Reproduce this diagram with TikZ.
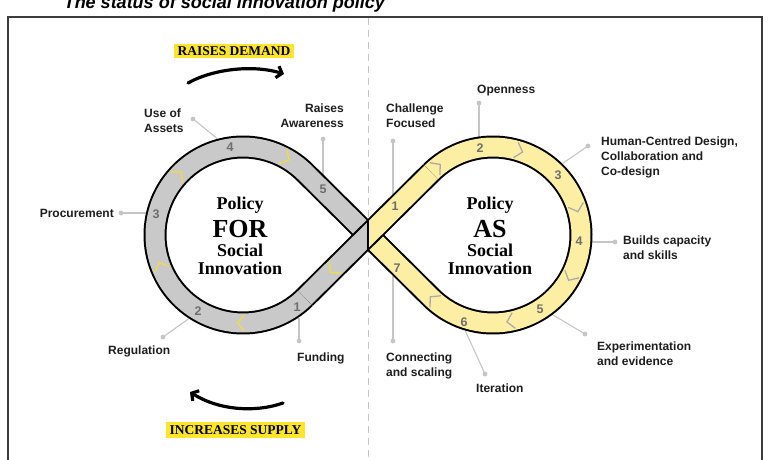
\documentclass[tikz,border=0pt]{standalone}
\usepackage{fontspec}
\setmainfont{Liberation Sans}
\newfontfamily\serifb{Liberation Serif}
\usetikzlibrary{calc,arrows.meta}
\definecolor{bandgray}{HTML}{C9C9C9}
\definecolor{bandyel}{HTML}{FCEFA4}
\definecolor{hl}{HTML}{FDE52B}
\definecolor{chevy}{HTML}{F2DA45}
\definecolor{chevg}{HTML}{ABABAB}
\definecolor{numc}{HTML}{6E6E6E}
\definecolor{leadc}{HTML}{C6C6C6}
\definecolor{labc}{HTML}{1E1E1E}
\definecolor{framec}{HTML}{3C3C3C}
\newcommand\chevC[3]{%
  \draw[#3, line width=1.3, line join=miter]
    ($(#1)+(#2:96)+(#2+90:-3)$) -- ($(#1)+(#2:88)+(#2+90:4)$) -- ($(#1)+(#2:80)+(#2+90:-3)$);}
\begin{document}
\begin{tikzpicture}[x=1pt,y=-1pt,
  lab/.style={font=\fontsize{12}{15}\selectfont\bfseries, text=labc, inner sep=0pt, align=left},
  labr/.style={lab, align=right},
  num/.style={font=\fontsize{12.5}{12.5}\selectfont\bfseries, text=numc, inner sep=0pt},
  ctr/.style={font=\serifb\bfseries\fontsize{18}{18}\selectfont, text=black, inner sep=0pt, anchor=base},
  big/.style={font=\serifb\bfseries\fontsize{26}{26}\selectfont, text=black, inner sep=0pt, anchor=base},
  tag/.style={font=\serifb\bfseries\fontsize{13.5}{13.5}\selectfont, fill=hl, inner xsep=3.5pt, text height=9pt, text depth=0pt},
  lead/.style={leadc, line width=1.1pt},
  bigarrow/.style={line width=3.2pt, line cap=round, -{Straight Barb[length=5pt,width=12pt]}}]
\clip (0,0) rectangle (769,460);
\fill[white] (0,0) rectangle (769,460);
% title (cut off at the top, as in the reference)
\node[anchor=base east, font=\fontsize{18}{20}\selectfont\bfseries\itshape, inner sep=0pt] (title) at (385,9) {The status of social innovation policy};
% frame and divider
\draw[framec, line width=1.4pt] (8,462) -- (8,17) -- (762,17) -- (762,462);
\draw[leadc, line width=1pt, dash pattern=on 7pt off 5pt] (368,18) -- (368,462);
% geometry
\coordinate (CL) at (243,235);
\coordinate (CR) at (493,235);
\coordinate (X) at (368,235);
\coordinate (TLd) at ($(CL)+(45.25:88)$);
\coordinate (TLu) at ($(CL)+(-45.25:88)$);
\coordinate (TRd) at ($(CR)+(134.75:88)$);
\coordinate (TRu) at ($(CR)+(-134.75:88)$);
% leader lines
\coordinate (dProc) at (121,213); \coordinate (eProc) at (146,213);
\coordinate (dUse) at (193,119);  \coordinate (eUse) at ($(CL)+(255:100)$);
\coordinate (dRai) at (323,139);  \coordinate (eRai) at (323,175);
\coordinate (dReg) at (163,337);  \coordinate (eReg) at ($(CL)+(123:100)$);
\coordinate (dFun) at (299,341);  \coordinate (eFun) at (299,318);
\coordinate (dCha) at (393,141);  \coordinate (eCha) at (393,195);
\coordinate (dOpe) at (479,103);  \coordinate (eOpe) at (479,137);
\coordinate (dHum) at (588,146);  \coordinate (eHum) at ($(CR)+(-45.8:100)$);
\coordinate (dBui) at (615,242);  \coordinate (eBui) at (592,242);
\coordinate (dExp) at (585,334);  \coordinate (eExp) at ($(CR)+(53.1:100)$);
\coordinate (dIte) at (485,374);  \coordinate (eIte) at ($(CR)+(106:100)$);
\coordinate (dCon) at (393,341);  \coordinate (eCon) at (393,276);
\foreach \n in {Proc,Use,Rai,Reg,Fun,Cha,Ope,Hum,Bui,Exp,Ite,Con}{
  \draw[lead] (d\n) -- (e\n);
  \fill[leadc] (d\n) circle (2.4);
}
% ring
\def\pathA{(TLd) arc[start angle=45.25, end angle=314.75, radius=88] -- (X) -- (TRd) arc[start angle=134.75, end angle=-134.75, radius=88]}
\def\pathB{(TRu) -- (X) -- (TLd)}
\begin{scope}
  \clip (0,0) rectangle (368,460);
  \draw[black, line width=23pt] \pathA;
  \draw[bandgray, line width=19pt] \pathA;
  \draw[black, line width=23pt] \pathB;
  \draw[bandgray, line width=19pt] \pathB;
\end{scope}
\begin{scope}
  \clip (368,0) rectangle (769,460);
  \draw[black, line width=23pt] \pathA;
  \draw[bandyel, line width=19pt] \pathA;
  \draw[black, line width=23pt] \pathB;
  \draw[bandyel, line width=19pt] \pathB;
\end{scope}
\draw[black, line width=2pt] (368,218.7) -- (368,251.3);
% chevrons
\foreach \a in {299,223,159,91}{\chevC{CL}{\a}{chevy}}
\draw[chevy, line width=1.3, line join=miter]
  ($(X)+(135.25:46)+(45.25:8)$) -- ($(X)+(135.25:53)$) -- ($(X)+(135.25:46)+(45.25:-8)$);
\foreach \a in {230.6,287,342,28.3,78.3,132.8}{\chevC{CR}{\a}{chevg}}
% numbers
\node[num] (g1) at (297,307) {1};
\node[num] (g2) at (198,311) {2};
\node[num] (g3) at (156,214) {3};
\node[num] (g4) at (230,147) {4};
\node[num] (g5) at (323,189) {5};
\node[num] (y1) at (395,206) {1};
\node[num] (y2) at (480,148) {2};
\node[num] (y3) at (558,175) {3};
\node[num] (y4) at (579,241) {4};
\node[num] (y5) at (540,309) {5};
\node[num] (y6) at (464,322) {6};
\node[num] (y7) at (397,268) {7};
% centre texts
\node[ctr] (pf1) at (240,209) {Policy};
\node[big] (pf2) at (240,237) {FOR};
\node[ctr] (pf3) at (240,256) {Social};
\node[ctr] (pf4) at (240,274) {Innovation};
\node[ctr] (pa1) at (490,209) {Policy};
\node[big] (pa2) at (490,237) {AS};
\node[ctr] (pa3) at (490,256) {Social};
\node[ctr] (pa4) at (490,274) {Innovation};
% labels
\node[lab, anchor=east] (lProc) at (114,213) {Procurement};
\node[lab, anchor=west] (lUse) at (144,121) {Use of\\Assets};
\node[labr, anchor=east] (lRai) at (344,116) {Raises\\Awareness};
\node[lab, anchor=west] (lReg) at (108,351) {Regulation};
\node[lab, anchor=west] (lFun) at (297,358) {Funding};
\node[lab, anchor=west] (lCha) at (386,116) {Challenge\\Focused};
\node[lab, anchor=west] (lOpe) at (477,91) {Openness};
\node[lab, anchor=west] (lHum) at (601,157) {Human-Centred Design,\\Collaboration and\\Co-design};
\node[lab, anchor=west] (lBui) at (623,248) {Builds capacity\\and skills};
\node[lab, anchor=west] (lExp) at (597,354) {Experimentation\\and evidence};
\node[lab, anchor=west] (lIte) at (476,388) {Iteration};
\node[lab, anchor=west] (lCon) at (386,366) {Connecting\\and scaling};
% tags and arrows
\node[tag, inner ysep=2.5pt] (demand) at (234,51) {RAISES DEMAND};
\node[tag, inner ysep=3.5pt] (supply) at (235.5,430) {INCREASES SUPPLY};
\coordinate (a1s) at (188,83); \coordinate (a1e) at (284,74);
\coordinate (a2s) at (283,403); \coordinate (a2e) at (190,392);
\draw[bigarrow] (a1s) .. controls (215,68) and (255,65) .. (a1e);
\draw[bigarrow] (a2s) .. controls (255,413) and (218,410) .. (a2e);
\end{tikzpicture}
\end{document}
